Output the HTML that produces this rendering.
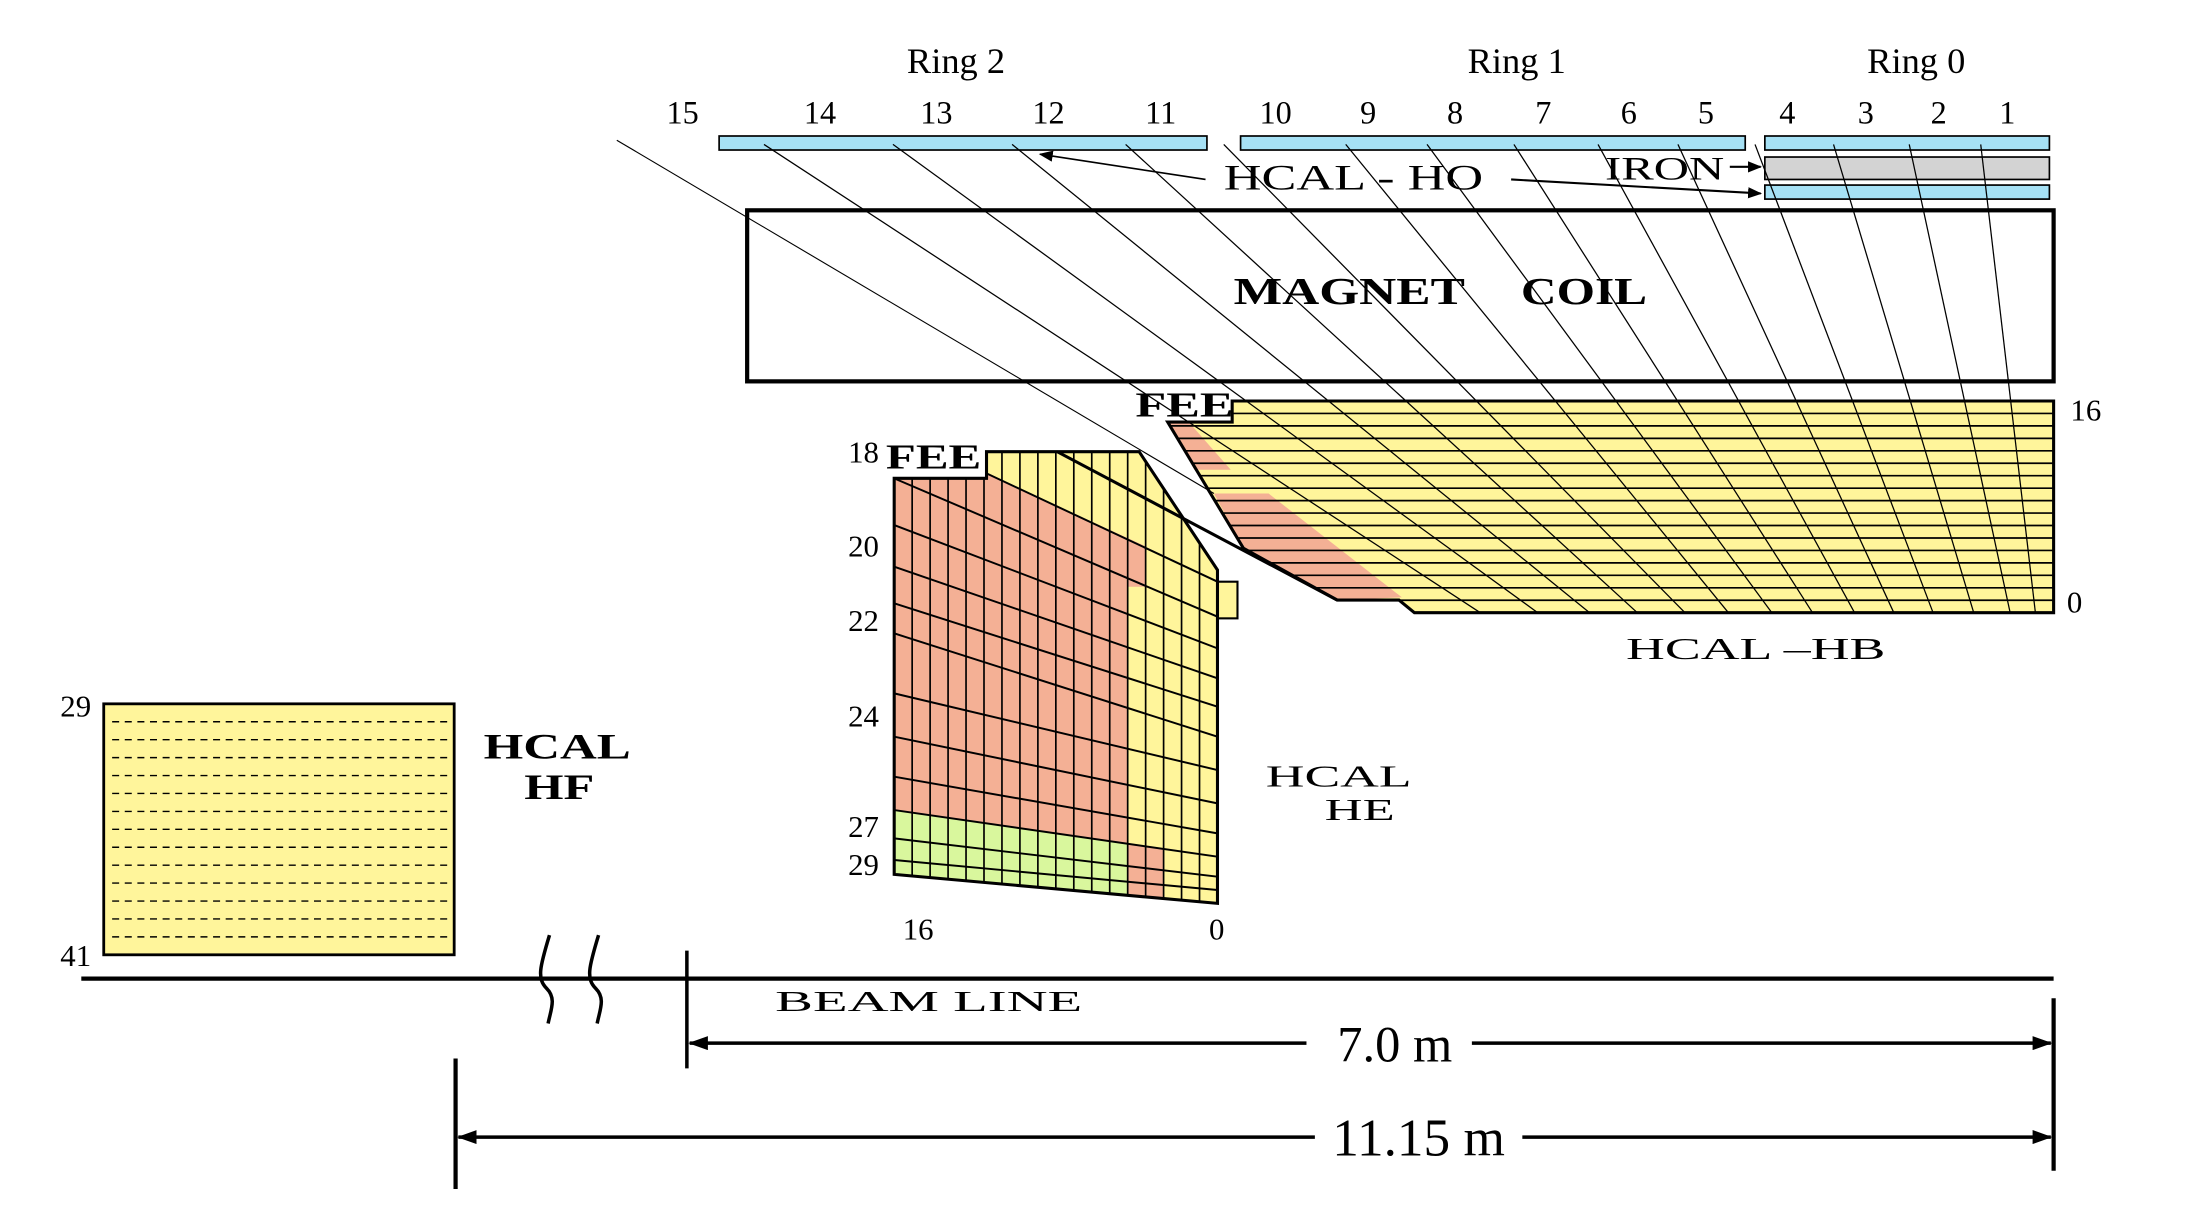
<!DOCTYPE html>
<html><head><meta charset="utf-8"><style>
html,body{margin:0;padding:0;background:#fff;}
svg{display:block;}
text{font-family:"Liberation Serif",serif;fill:#000;}
</style></head><body>
<svg id="s" width="2198" height="1224" viewBox="0 0 1568 873" preserveAspectRatio="none">
<defs><marker id="ah" markerWidth="10" markerHeight="8" refX="9" refY="4" orient="auto" markerUnits="userSpaceOnUse"><path d="M0,0 L10,4 L0,8z" fill="#000"/></marker>
<marker id="ah2" markerWidth="14" markerHeight="10" refX="13" refY="5" orient="auto-start-reverse" markerUnits="userSpaceOnUse"><path d="M0,0 L14,5 L0,10z" fill="#000"/></marker></defs>
<g id="hf"></g>
<g id="he"></g>
<g id="hb"></g>
<g id="top"></g>
<g id="txt"></g>
</svg>
<script>
const NS='http://www.w3.org/2000/svg';
const Y='#fff59b',R='#f4b095',G='#d9f79d',B='#a6e1f5';
// HO tower start positions (x at y=103) and HB end positions (x at y=437)
const hoStarts=[545,637,722,803,873,960,1018,1080,1140,1197,1252,1308,1362,1413];
const hbEnds=[1056,1097,1134,1168,1202,1233,1264,1293,1323,1351,1379,1408,1434,1452];
const towerLabels=['15','14','13','12','11','10','9','8','7','6','5','4','3','2','1'];
const towerX=[487,585,668,748,828,910,976,1038,1101,1162,1217,1275,1331,1383,1432];
// HE eta lines: left y (zoom) -> right y (zoom)
const heLeft=[145,285,410,520,610,790,920,1040,1140,1225,1290];
const heRight=[560,655,745,830,920,1020,1120,1210,1280,1340,1380];
function el(p,t,a,name){const e=document.createElementNS(NS,t);for(const k in a)e.setAttribute(k,a[k]);


p.appendChild(e);return e;}
const g=id=>document.getElementById(id);
const P=pts=>pts.map(p=>p.join(',')).join(' ');
const hx=z=>(850+z/3)/1.402, hy=z=>(430+z/3)/1.402;
const H=(a,b)=>[hx(a),hy(b)];
// HF
const hf=g('hf');
el(hf,'rect',{x:74,y:502,width:250,height:179,fill:Y,stroke:'#000','stroke-width':2},'hf-box');
for(let i=1;i<=13;i++){const y=502+i*179/14;el(hf,'line',{x1:80,x2:320,y1:y,y2:y,stroke:'#000','stroke-width':1,'stroke-dasharray':'5,4'},'hf-layer');}
// HE
const he=g('he');
const heOut=[H(133,145),H(410,145),H(410,65),H(868,65),H(1103,420),H(1103,1420),H(133,1333)];
el(he,'polygon',{points:P(heOut),fill:Y},'he-body');
el(he,'polygon',{points:P([H(133,145),H(410,145),H(410,130),H(890,350),H(890,470),H(835,470),H(835,1240),H(133,1140)]),fill:R},'he-red-region');
el(he,'polygon',{points:P([H(133,1140),H(835,1240),H(835,1395),H(133,1333)]),fill:G},'he-green-region');
el(he,'polygon',{points:P([H(835,1240),H(943,1255),H(943,1405),H(835,1395)]),fill:R},'he-red-block');
for(let i=1;i<18;i++){const zx=133+i*(1103-133)/18;const topZ=zx<410?145:(zx<868?65:65+(zx-868)*355/235);const botZ=1333+(zx-133)*87/970;
el(he,'line',{x1:hx(zx),y1:hy(topZ),x2:hx(zx),y2:hy(botZ),stroke:'#000','stroke-width':1.2},'he-depth-line');}
heLeft.forEach((l,i)=>el(he,'line',{x1:hx(133),y1:hy(l),x2:hx(1103),y2:hy(heRight[i]),stroke:'#000','stroke-width':1.4},'he-eta-line'));
el(he,'line',{x1:hx(410),y1:hy(130),x2:hx(1103),y2:hy(455),stroke:'#000','stroke-width':1.4},'he-eta-line');
el(he,'rect',{x:hx(1103),y:hy(455),width:hx(1163)-hx(1103),height:hy(565)-hy(455),fill:Y,stroke:'#000','stroke-width':1.5},'he-notch');
el(he,'polygon',{points:P(heOut),fill:'none',stroke:'#000','stroke-width':2.2},'he-outline');
// HB
const hb=g('hb');
const hbOut=[[879,286],[1465,286],[1465,437],[1009,437],[998,428],[954,428],[887,391],[833,301],[879,301]];
el(hb,'polygon',{points:P(hbOut),fill:Y},'hb-body');
el(hb,'polygon',{points:P([[833,301],[848,301],[878,335],[852,335]]),fill:R},'hb-red-top');
el(hb,'polygon',{points:P([[866,352],[905,352],[1000,426],[954,428],[887,391]]),fill:R},'hb-red-lower');
for(let i=1;i<17;i++){const y=286+i*151/17;const xl=y<301?879:(y<391?833+(y-301)*54/90:887+(y-391)*67/37);
el(hb,'line',{x1:xl,x2:1465,y1:y,y2:y,stroke:'#000','stroke-width':1.2},'hb-layer');}
el(hb,'polygon',{points:P(hbOut),fill:'none',stroke:'#000','stroke-width':2.2},'hb-outline');
// top
const tp=g('top');
el(tp,'rect',{x:513,y:97,width:348,height:10,fill:B,stroke:'#000','stroke-width':1.2},'ho-ring2-bar');
el(tp,'rect',{x:885,y:97,width:360,height:10,fill:B,stroke:'#000','stroke-width':1.2},'ho-ring1-bar');
el(tp,'rect',{x:1259,y:97,width:203,height:10,fill:B,stroke:'#000','stroke-width':1.2},'ho-ring0-bar');
el(tp,'rect',{x:1259,y:112,width:203,height:16,fill:'#d3d3d3',stroke:'#000','stroke-width':1.2},'iron-bar');
el(tp,'rect',{x:1259,y:132,width:203,height:10,fill:B,stroke:'#000','stroke-width':1.2},'ho-ring0-inner-bar');
el(tp,'rect',{x:533,y:150,width:932,height:122,fill:'none',stroke:'#000','stroke-width':3},'magnet-coil');
hoStarts.forEach((x,i)=>el(tp,'line',{x1:x,y1:103,x2:hbEnds[i],y2:437,stroke:'#000','stroke-width':0.9},'tower-boundary-line'));
el(tp,'line',{x1:440,y1:100,x2:866,y2:352,stroke:'#000','stroke-width':0.8},'tower-boundary-line-16');
el(tp,'line',{x1:hx(622),y1:hy(65),x2:954,y2:428,stroke:'#000','stroke-width':2.2},'he-hb-boundary');
el(tp,'line',{x1:860,y1:128,x2:742,y2:110,stroke:'#000','stroke-width':1.2,'marker-end':'url(#ah)'},'ho-arrow-left');
el(tp,'line',{x1:1078,y1:128,x2:1256,y2:138,stroke:'#000','stroke-width':1.5,'marker-end':'url(#ah)'},'ho-arrow-right');
el(tp,'line',{x1:1234,y1:119,x2:1256,y2:119,stroke:'#000','stroke-width':1.5,'marker-end':'url(#ah)'},'iron-arrow');
el(tp,'line',{x1:58,y1:698,x2:1465,y2:698,stroke:'#000','stroke-width':3},'beam-line');
el(tp,'path',{d:'M392,667 C385,690 383,698 390,705 S393,720 391,730',fill:'none',stroke:'#000','stroke-width':2.5},'beam-break-left');
el(tp,'path',{d:'M427,667 C420,690 418,698 425,705 S428,720 426,730',fill:'none',stroke:'#000','stroke-width':2.5},'beam-break-right');
el(tp,'line',{x1:490,y1:678,x2:490,y2:762,stroke:'#000','stroke-width':2.5},'dim-tick-7m');
el(tp,'line',{x1:1465,y1:712,x2:1465,y2:835,stroke:'#000','stroke-width':3},'dim-tick-end');
el(tp,'line',{x1:325,y1:755,x2:325,y2:848,stroke:'#000','stroke-width':3},'dim-tick-11m');
el(tp,'line',{x1:492,y1:744,x2:1463,y2:744,stroke:'#000','stroke-width':2.5,'marker-start':'url(#ah2)','marker-end':'url(#ah2)'},'dim-line-7m');
el(tp,'line',{x1:327,y1:811,x2:1463,y2:811,stroke:'#000','stroke-width':2.5,'marker-start':'url(#ah2)','marker-end':'url(#ah2)'},'dim-line-11m');
el(tp,'rect',{x:932,y:725,width:118,height:38,fill:'#fff'},'dim-label-bg-7m');
el(tp,'rect',{x:938,y:790,width:148,height:42,fill:'#fff'},'dim-label-bg-11m');
// text
const tx=g('txt');
function T(s,x,y,size,name,anchor,extra){const e=el(tx,'text',Object.assign({x:x,y:y,'font-size':size,'text-anchor':anchor||'middle'},extra||{}),name);e.textContent=s;return e;}
function W(s,x,y,size,w,name,bold){const e=el(tx,'text',{x:x,y:y,'font-size':size,textLength:w,lengthAdjust:'spacingAndGlyphs','font-weight':bold?'bold':'normal'},name);e.textContent=s;return e;}
T('Ring 2',682,52,26,'ring2-label');T('Ring 1',1082,52,26,'ring1-label');T('Ring 0',1367,52,26,'ring0-label');
towerLabels.forEach((s,i)=>T(s,towerX[i],88,23,'tower-label'));
W('HCAL - HO',873,135,26,185,'hcal-ho-label');
W('IRON',1145,128,23,85,'iron-label');
W('MAGNET',880,217,27,165,'magnet-label',true);
W('COIL',1085,217,27,90,'coil-label',true);
W('FEE',810,297,25,70,'hb-fee-label',true);W('FEE',632,334,25,68,'he-fee-label',true);
T('18',616,330,22,'he-18');T('20',616,397,22,'he-20');T('22',616,450,22,'he-22');T('24',616,518,22,'he-24');T('27',616,597,22,'he-27');T('29',616,624,22,'he-29');
T('16',655,670,22,'he-16');T('0',868,670,22,'he-0');
T('16',1488,300,22,'hb-16');T('0',1480,437,22,'hb-0');
W('HCAL –HB',1160,470,22,185,'hcal-hb-label');
W('HCAL',903,561,22,104,'hcal-he-label1');W('HE',945,585,22,50,'hcal-he-label2');
W('HCAL',345,541,26,105,'hcal-hf-label1',true);W('HF',374,570,26,50,'hcal-hf-label2',true);
T('29',54,511,22,'hf-29');T('41',54,689,22,'hf-41');
W('BEAM LINE',553,721,20,219,'beam-line-label');
T('7.0 m',995,757,36,'dim-7m-label');T('11.15 m',1012,824,38,'dim-11m-label');
</script>
</body></html>
